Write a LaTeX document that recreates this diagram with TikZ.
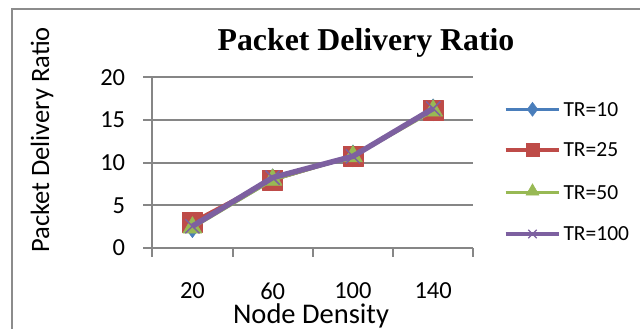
\documentclass[tikz,border=0pt]{standalone}
\usepackage{fontspec}
\setmainfont{Carlito}
\newfontfamily\titlefont{Liberation Serif}
\usetikzlibrary{plotmarks}
\definecolor{gridgray}{HTML}{868686}
\definecolor{frgray}{HTML}{8C8C8C}
\definecolor{sblue}{HTML}{4A7EBB}
\definecolor{sred}{HTML}{BE4B48}
\definecolor{sgreen}{HTML}{98B954}
\definecolor{spurple}{HTML}{7D60A0}
\begin{document}
\begin{tikzpicture}[x=1pt,y=1pt,
  ticklbl/.style={font=\fontsize{24.5}{28}\selectfont, inner sep=0pt},
  legendlbl/.style={font=\fontsize{21.5}{25}\selectfont, inner sep=0pt, anchor=west},
  gridline/.style={gridgray, line width=2pt},
  serieslw/.style={line width=3.5pt, line join=round}]
\useasboundingbox (0,0) rectangle (640,329);
\fill[white] (0,0) rectangle (640,329);
\draw[frgray, line width=2pt] (12,-2) -- (12,320) -- (642,320);
% title and axis titles
\node[anchor=base, inner sep=0pt, font=\titlefont\bfseries\fontsize{31.8}{38}\selectfont] (title) at (366,278) {Packet Delivery Ratio};
\node[rotate=90, anchor=base, inner sep=0pt, font=\fontsize{26.5}{31}\selectfont] (ylabel) at (49,189) {Packet Delivery Ratio};
\node[anchor=base, inner sep=0pt, font=\fontsize{28.5}{33}\selectfont] (xlabel) at (311,5.5) {Node Density};
% plot area
\begin{scope}[shift={(152.3pt,81pt)}, x=80.25pt, y=8.53pt]
  \foreach \v in {0,5,10,15,20} {
    \draw[gridline] (-0.112,\v) -- (4,\v);
    \node[ticklbl, anchor=east, xshift=-27pt] (yt\v) at (0,\v) {\v};
  }
  \draw[gridline] (0,20) -- (0,-1.055);
  \foreach \i in {1,...,4} \draw[gridline] (\i,0) -- (\i,-1.055);
  \foreach \i/\l in {1/20,2/60,3/100,4/140}
    \node[ticklbl, yshift=-43pt] (xt\i) at (\i-0.5,0) {\l};
  % series
  \draw[sblue, serieslw] plot[mark=diamond*, mark size=11pt, mark options={fill=sblue, line width=0.5pt}]
    coordinates {(0.5,2.5) (1.5,8) (2.5,10.8) (3.5,16.2)};
  \draw[sred, serieslw] plot[mark=square*, mark size=10pt, mark options={fill=sred, line width=0.5pt}]
    coordinates {(0.5,3.05) (1.5,8) (2.5,10.8) (3.5,16.2)};
  \draw[sgreen, serieslw] plot[mark=triangle*, mark size=11pt, mark options={fill=sgreen, line width=0.5pt}]
    coordinates {(0.5,2.4) (1.5,8) (2.5,10.75) (3.5,16.1)};
  \draw[spurple, line width=5.5pt, line join=round] plot[mark=x, mark size=10pt, mark options={line width=1.5pt}]
    coordinates {(0.5,2.55) (1.5,8.25) (2.5,10.75) (3.5,16.35)};
\end{scope}
% legend
\draw[sblue, line width=3.5pt] (505.7,219.7) -- (559.3,219.7);
\path plot[mark=diamond*, mark size=7pt, mark options={sblue, fill=sblue, line width=0.5pt}] coordinates {(532.5,219.7)};
\node[legendlbl] (l1) at (563.3,219.7) {TR=10};
\draw[sred, line width=3.5pt] (505.7,179) -- (559.3,179);
\path plot[mark=square*, mark size=6.5pt, mark options={sred, fill=sred, line width=0.5pt}] coordinates {(532.5,179)};
\node[legendlbl] (l2) at (563.3,179) {TR=25};
\draw[sgreen, line width=3.5pt] (505.7,136.7) -- (559.3,136.7);
\path plot[mark=triangle*, mark size=7.5pt, mark options={sgreen, fill=sgreen, line width=0.5pt}] coordinates {(532.5,137.7)};
\node[legendlbl] (l3) at (563.3,136.7) {TR=50};
\draw[spurple, line width=3.5pt] (505.7,95) -- (559.3,95);
\path plot[mark=x, mark size=6pt, mark options={spurple, line width=1.3pt}] coordinates {(532.5,95)};
\node[legendlbl] (l4) at (563.3,95) {TR=100};
\end{tikzpicture}
\end{document}
